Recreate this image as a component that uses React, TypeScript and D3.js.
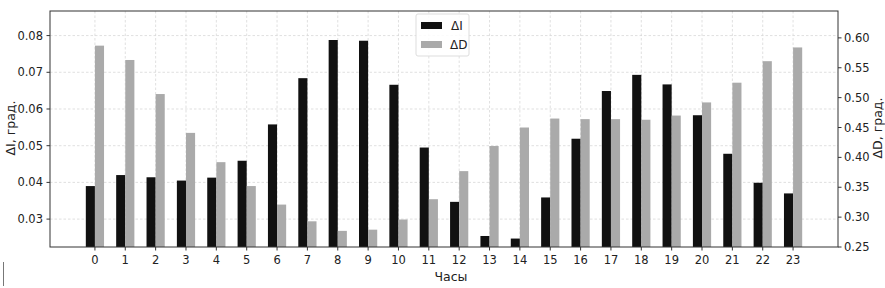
import * as d3 from 'd3';

const width = 885;
const height = 288;
const margin = { left: 50, right: 47, top: 11, bottom: 41 };
const innerW = width - margin.left - margin.right;
const innerH = height - margin.top - margin.bottom;

const hours = d3.range(0, 24);
const dI = [0.039, 0.042, 0.0414, 0.0405, 0.0413, 0.0459, 0.0558, 0.0684, 0.0788, 0.0786, 0.0666, 0.0495,
  0.0347, 0.0254, 0.0247, 0.0359, 0.0519, 0.0649, 0.0693, 0.0667, 0.0583, 0.0478, 0.0399, 0.037];
const dD = [0.587, 0.563, 0.506, 0.441, 0.392, 0.352, 0.321, 0.293, 0.277, 0.279, 0.296, 0.33,
  0.377, 0.419, 0.45, 0.465, 0.464, 0.464, 0.463, 0.47, 0.492, 0.525, 0.561, 0.584];
const leftTicks = [0.03, 0.04, 0.05, 0.06, 0.07, 0.08];
const rightTicks = [0.25, 0.3, 0.35, 0.4, 0.45, 0.5, 0.55, 0.6];

const barW = 0.3;
const font = 'DejaVu Sans, sans-serif';

const x = d3.scaleLinear().domain([-1.48, 24.48]).range([0, innerW]);
const yL = d3.scaleLinear().domain([0.0224, 0.0867]).range([innerH, 0]);
const yR = d3.scaleLinear().domain([0.25, 0.645]).range([innerH, 0]);

const App = () => {
  return (
    <svg width={width} height={height} style={{ position: 'absolute', left: 0, top: 0 }} fontFamily={font}>
      <rect width={width} height={height} fill="#fff" />
      <g transform={`translate(${margin.left},${margin.top})`}>
        {/* grid */}
        {hours.map(h => (
          <line key={'gx' + h} x1={x(h)} x2={x(h)} y1={0} y2={innerH} stroke="#d8d8d8" strokeWidth={0.8} strokeDasharray="2.5,2" />
        ))}
        {leftTicks.map(t => (
          <line key={'gy' + t} x1={0} x2={innerW} y1={yL(t)} y2={yL(t)} stroke="#d8d8d8" strokeWidth={0.8} strokeDasharray="2.5,2" />
        ))}
        {/* bars */}
        {hours.map((h, i) => (
          <rect key={'i' + h} x={x(h - barW)} width={x(barW) - x(0)} y={yL(dI[i])} height={innerH - yL(dI[i])} fill="#111111" />
        ))}
        {hours.map((h, i) => (
          <rect key={'d' + h} x={x(h)} width={x(barW) - x(0)} y={yR(dD[i])} height={innerH - yR(dD[i])} fill="#aaaaaa" />
        ))}
        {/* spines */}
        <rect x={0} y={0} width={innerW} height={innerH} fill="none" stroke="#333" strokeWidth={1} />
        {/* x axis */}
        {hours.map(h => (
          <g key={'xt' + h} transform={`translate(${x(h)},${innerH})`}>
            <line y2={3.5} stroke="#333" />
            <text y={17} textAnchor="middle" fontSize={11.5} fill="#222">{h}</text>
          </g>
        ))}
        {/* left axis */}
        {leftTicks.map(t => (
          <g key={'lt' + t} transform={`translate(0,${yL(t)})`}>
            <line x2={-3.5} stroke="#333" />
            <text x={-7} dy="0.35em" textAnchor="end" fontSize={11.5} fill="#222">{t.toFixed(2)}</text>
          </g>
        ))}
        {/* right axis */}
        {rightTicks.map(t => (
          <g key={'rt' + t} transform={`translate(${innerW},${yR(t)})`}>
            <line x2={3.5} stroke="#333" />
            <text x={6} dy="0.35em" textAnchor="start" fontSize={11.5} fill="#222">{t.toFixed(2)}</text>
          </g>
        ))}
        <text x={innerW / 2 + 7} y={innerH + 34} textAnchor="middle" fontSize={12.5} fill="#222">Часы</text>
        <text transform={`translate(-35,${innerH / 2 - 1}) rotate(-90)`} textAnchor="middle" fontSize={12.5} fill="#222">ΔI, град.</text>
        <text transform={`translate(${innerW + 43.5},${innerH / 2 - 1}) rotate(-90)`} textAnchor="middle" fontSize={12.5} fill="#222">ΔD, град.</text>
        {/* legend */}
        <g transform="translate(366,3)">
          <rect width={53} height={42} rx={2} fill="#fff" fillOpacity={0.85} stroke="#ddd" />
          <rect x={5} y={8} width={21} height={7} fill="#111111" />
          <rect x={5} y={27} width={21} height={7} fill="#aaaaaa" />
          <text x={35} y={16} fontSize={12} fill="#222">ΔI</text>
          <text x={34} y={35} fontSize={12} fill="#222">ΔD</text>
        </g>
      </g>
      <line x1={3.5} x2={3.5} y1={262} y2={286} stroke="#777" strokeWidth={1} />
    </svg>
  );
};

export default App;
